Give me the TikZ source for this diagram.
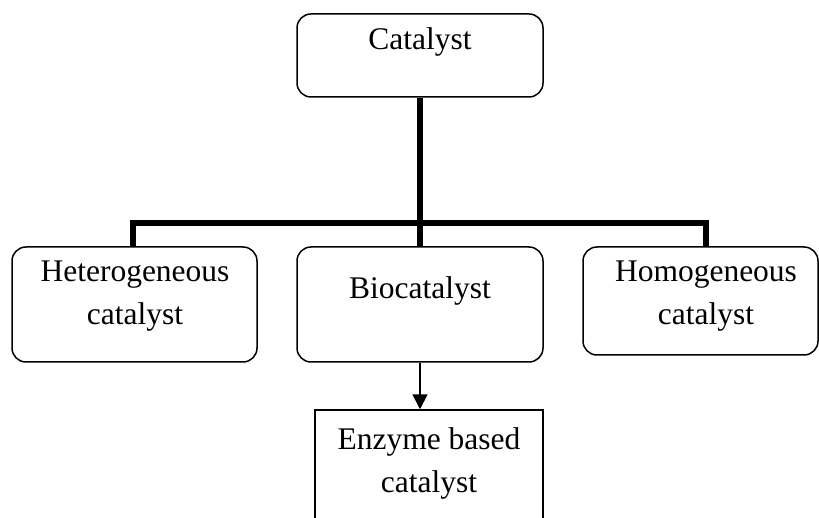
\documentclass[tikz,border=0pt]{standalone}
\usepackage{fontspec}
\setmainfont{Liberation Serif}
\usetikzlibrary{arrows.meta}
\tikzset{
  rbox/.style={draw, line width=1.5pt, rounded corners=14pt, inner sep=0pt},
  sbox/.style={draw, line width=1.5pt, inner sep=0pt},
  txt/.style={anchor=base, inner sep=0pt, font=\fontsize{31.5}{43}\selectfont, align=center},
  bar/.style={line width=5.5pt, line join=miter},
  arr/.style={line width=1.8pt, -{Triangle[length=15pt,width=15pt]}}
}
\begin{document}
\begin{tikzpicture}[x=1pt,y=-1pt]
\useasboundingbox[fill=white] (0,0) rectangle (819,518);
% boxes
\node[rbox, minimum width=246pt, minimum height=83pt] (cat) at (420,55.5) {};
\node[rbox, minimum width=245pt, minimum height=115pt] (het) at (134.5,304.5) {};
\node[rbox, minimum width=246pt, minimum height=115pt] (bio) at (420,304.5) {};
\node[rbox, minimum width=235pt, minimum height=108pt] (hom) at (700.5,301) {};
\node[sbox, minimum width=228pt, minimum height=130pt] (enz) at (429,475) {};
% texts
\node[txt] (catt) at (420,50) {Catalyst};
\node[txt] (hett) at (135,325) {Heterogeneous\\catalyst};
\node[txt] (biot) at (420,299) {Biocatalyst};
\node[txt] (homt) at (706,325) {Homogeneous\\catalyst};
\node[txt] (enzt) at (429,492) {Enzyme based\\catalyst};
% connectors
\coordinate (jl) at (133,223);
\coordinate (jr) at (706,223);
\coordinate (ja) at (420,0);
\draw[bar] (het.north -| jl) -- (jl) -- (jr) -- (hom.north -| jr);
\draw[bar] (cat.south) -- (bio.north);
\draw[arr] (bio.south -| ja) -- (enz.north -| ja);
\end{tikzpicture}
\end{document}
